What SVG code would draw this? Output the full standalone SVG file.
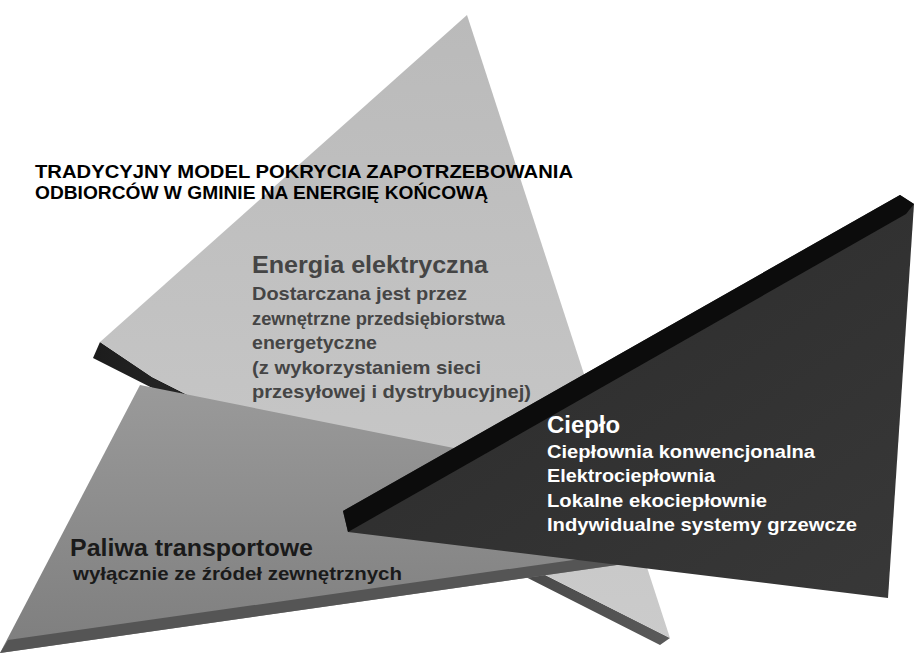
<svg xmlns="http://www.w3.org/2000/svg" width="920" height="654" viewBox="0 0 920 654">
  <defs>
    <style>
      .t { font-family: "Liberation Sans", Arial, Helvetica, sans-serif; font-weight: bold; }
      .title { font-size: 19px; fill: #000; }
      .elh { font-size: 24px; fill: #454545; }
      .el { font-size: 19px; fill: #454545; }
      .cph { font-size: 23px; fill: #fff; }
      .cp { font-size: 19px; fill: #fff; }
      .plh { font-size: 24px; fill: #1a1a1a; }
      .pl { font-size: 19px; fill: #1a1a1a; }
    </style>
    <linearGradient id="gLight" x1="0" y1="0" x2="0" y2="1">
      <stop offset="0" stop-color="#bababa"/>
      <stop offset="1" stop-color="#cbcbcb"/>
    </linearGradient>
    <linearGradient id="gSide" x1="0" y1="0" x2="1" y2="0">
      <stop offset="0" stop-color="#1c1c1c"/>
      <stop offset="0.5" stop-color="#3a3a3a"/>
      <stop offset="1" stop-color="#5a5a5a"/>
    </linearGradient>
    <linearGradient id="gMed" x1="0" y1="0" x2="0" y2="1">
      <stop offset="0" stop-color="#9a9a9a"/>
      <stop offset="1" stop-color="#7e7e7e"/>
    </linearGradient>
    <linearGradient id="gDark" x1="0" y1="0" x2="1" y2="1">
      <stop offset="0" stop-color="#2a2a2a"/>
      <stop offset="1" stop-color="#383838"/>
    </linearGradient>
  </defs>

  <rect x="0" y="0" width="920" height="654" fill="#ffffff"/>

  <!-- Light triangle: Energia elektryczna -->
  <g id="energia-elektryczna">
    <polygon points="100,342 152,377 670,638 660,645 93,358" fill="url(#gSide)"/>
    <polygon points="467,15 100,342 152,377 670,638" fill="url(#gLight)"/>
  </g>

  <!-- Medium triangle: Paliwa transportowe -->
  <g id="paliwa-transportowe">
    <polygon points="0,653 140,385 862,530" fill="url(#gMed)"/>
    <polygon points="0,653 862,530 862,519 8,640" fill="#555555"/>
  </g>

  <!-- Dark triangle: Ciepło -->
  <g id="cieplo">
    <polygon points="343,511 900,195 914,204 888,598 348,532" fill="url(#gDark)"/>
    <polygon points="343,511 900,195 914,204 906,214 348,532" fill="#0c0c0c"/>
  </g>

  <!-- Texts -->
  <g id="title">
    <text class="t title" x="35" y="178" textLength="538" lengthAdjust="spacingAndGlyphs">TRADYCYJNY MODEL POKRYCIA ZAPOTRZEBOWANIA</text>
    <text class="t title" x="35" y="199" textLength="453" lengthAdjust="spacingAndGlyphs">ODBIORCÓW W GMINIE NA ENERGIĘ KOŃCOWĄ</text>
  </g>

  <g id="energia-elektryczna-text">
    <text class="t elh" x="252" y="273" textLength="236" lengthAdjust="spacingAndGlyphs">Energia elektryczna</text>
    <text class="t el" x="252" y="300" textLength="215" lengthAdjust="spacingAndGlyphs">Dostarczana jest przez</text>
    <text class="t el" x="252" y="324.5" textLength="253" lengthAdjust="spacingAndGlyphs">zewnętrzne przedsiębiorstwa</text>
    <text class="t el" x="252" y="349" textLength="125" lengthAdjust="spacingAndGlyphs">energetyczne</text>
    <text class="t el" x="252" y="373.5" textLength="229" lengthAdjust="spacingAndGlyphs">(z wykorzystaniem sieci</text>
    <text class="t el" x="252" y="398" textLength="279" lengthAdjust="spacingAndGlyphs">przesyłowej i dystrybucyjnej)</text>
  </g>

  <g id="cieplo-text">
    <text class="t cph" x="547" y="433" textLength="73" lengthAdjust="spacingAndGlyphs">Ciepło</text>
    <text class="t cp" x="547" y="457.5" textLength="268" lengthAdjust="spacingAndGlyphs">Ciepłownia konwencjonalna</text>
    <text class="t cp" x="547" y="482" textLength="168" lengthAdjust="spacingAndGlyphs">Elektrociepłownia</text>
    <text class="t cp" x="547" y="506.5" textLength="220" lengthAdjust="spacingAndGlyphs">Lokalne ekociepłownie</text>
    <text class="t cp" x="547" y="531" textLength="310" lengthAdjust="spacingAndGlyphs">Indywidualne systemy grzewcze</text>
  </g>

  <g id="paliwa-transportowe-text">
    <text class="t plh" x="70" y="556" textLength="243" lengthAdjust="spacingAndGlyphs">Paliwa transportowe</text>
    <text class="t pl" x="73" y="580" textLength="329" lengthAdjust="spacingAndGlyphs">wyłącznie ze źródeł zewnętrznych</text>
  </g>
</svg>
